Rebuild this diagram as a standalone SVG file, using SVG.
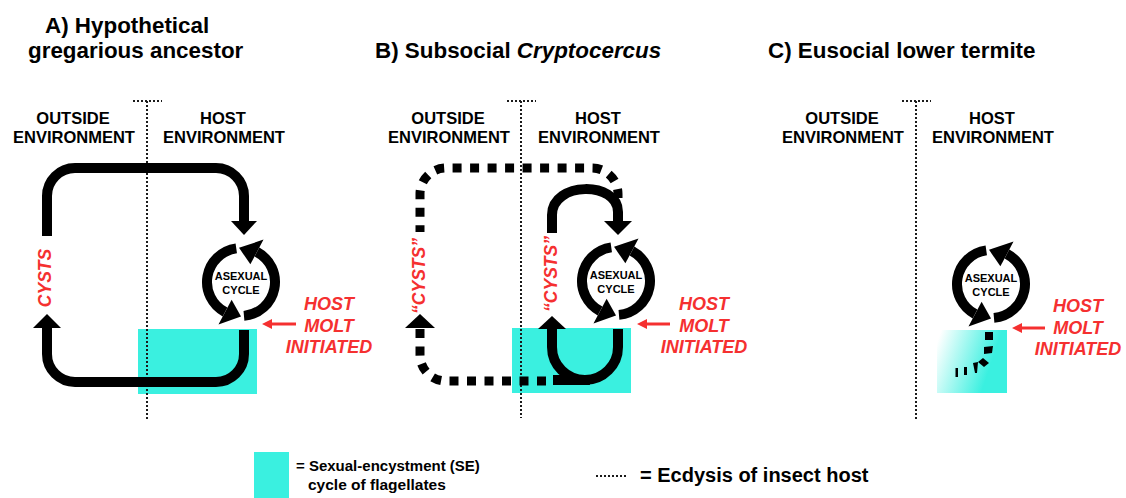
<svg xmlns="http://www.w3.org/2000/svg" xmlns:xlink="http://www.w3.org/1999/xlink" width="1126" height="498" viewBox="0 0 1126 498">
<style>
.t{font-family:"Liberation Sans",Arial,Helvetica,sans-serif;font-weight:bold;fill:#000}
.title{font-size:22.4px}
.env{font-size:16.5px;text-anchor:middle}
.red{fill:#f53030;font-style:italic;font-size:18px;text-anchor:middle}
.cys{fill:#f53030;font-style:italic;font-size:17.5px;text-anchor:middle}
.cyc{font-size:11px;text-anchor:middle}
.dot{stroke:#1a1a1a;stroke-width:2;stroke-dasharray:2 2;fill:none}
.thick{stroke:#000;stroke-width:10;fill:none}
.dash{stroke:#000;stroke-width:9;stroke-dasharray:9 8.5;fill:none}
.head{fill:#000}
.rline{stroke:#f53030;stroke-width:3}
.rhead{fill:#f53030}
.se{fill:#3af0e0}
</style>
<defs>
<linearGradient id="fade" x1="0" y1="0.2" x2="1" y2="0.5">
<stop offset="0" stop-color="#ffffff"/>
<stop offset="0.8" stop-color="#3af0e0"/>
</linearGradient>
<g id="cycle">
<path d="M-4.73,-33.67 A34,34 0 0 0 -15.96,30.02" fill="none" stroke="#000" stroke-width="10"/>
<polygon points="-9.39,17.66 -22.53,42.38 0,34.5" fill="#000"/>
<path d="M2.96,33.87 A34,34 0 0 0 15.96,-30.02" fill="none" stroke="#000" stroke-width="10"/>
<polygon points="9.39,-17.66 22.53,-42.38 -2,-34.2" fill="#000"/>
</g>
</defs>
<rect width="1126" height="498" fill="#fff"/>

<!-- SE regions -->
<g id="se-regions">
<rect class="se" x="138" y="329" width="119" height="65"/>
<rect class="se" x="512" y="328" width="119" height="65"/>
<rect x="937" y="330" width="70" height="63" fill="url(#fade)"/>
</g>

<!-- ecdysis lines -->
<g id="ecdysis">
<path class="dot" d="M133,101 H162 M147,101 V420"/>
<path class="dot" d="M507,101 H536 M521,101 V418"/>
<path class="dot" d="M902,101 H931 M916,101 V420"/>
</g>

<!-- titles -->
<g id="titles">
<text class="t title" x="45" y="33">A) Hypothetical</text>
<text class="t title" x="28" y="58">gregarious ancestor</text>
<text class="t title" x="375" y="58">B) Subsocial <tspan font-style="italic">Cryptocercus</tspan></text>
<text class="t title" x="768" y="58">C) Eusocial lower termite</text>
</g>

<!-- environment labels -->
<g id="env-labels">
<text class="t env" x="73" y="124">OUTSIDE</text>
<text class="t env" x="74" y="143">ENVIRONMENT</text>
<text class="t env" x="223" y="124">HOST</text>
<text class="t env" x="224" y="143">ENVIRONMENT</text>
<text class="t env" x="448" y="124">OUTSIDE</text>
<text class="t env" x="449" y="143">ENVIRONMENT</text>
<text class="t env" x="598" y="124">HOST</text>
<text class="t env" x="599" y="143">ENVIRONMENT</text>
<text class="t env" x="842" y="124">OUTSIDE</text>
<text class="t env" x="843" y="143">ENVIRONMENT</text>
<text class="t env" x="992" y="124">HOST</text>
<text class="t env" x="993" y="143">ENVIRONMENT</text>
</g>

<!-- nodes: asexual cycles -->
<g id="cycleA">
<use xlink:href="#cycle" href="#cycle" x="241" y="282"/>
<text class="t cyc" x="241" y="280">ASEXUAL</text>
<text class="t cyc" x="241" y="294">CYCLE</text>
</g>
<g id="cycleB">
<use xlink:href="#cycle" href="#cycle" x="616" y="281"/>
<text class="t cyc" x="616" y="279">ASEXUAL</text>
<text class="t cyc" x="616" y="293">CYCLE</text>
</g>
<g id="cycleC">
<use xlink:href="#cycle" href="#cycle" x="991" y="284"/>
<text class="t cyc" x="991" y="282">ASEXUAL</text>
<text class="t cyc" x="991" y="296">CYCLE</text>
</g>

<!-- host molt labels -->
<g id="moltA">
<text class="t red" x="329" y="310">HOST</text>
<text class="t red" x="329" y="332">MOLT</text>
<text class="t red" x="329" y="353">INITIATED</text>
</g>
<g id="moltB">
<text class="t red" x="704" y="310">HOST</text>
<text class="t red" x="704" y="332">MOLT</text>
<text class="t red" x="704" y="353">INITIATED</text>
</g>
<g id="moltC">
<text class="t red" x="1078" y="312">HOST</text>
<text class="t red" x="1078" y="334">MOLT</text>
<text class="t red" x="1078" y="355">INITIATED</text>
</g>

<!-- cyst labels -->
<g id="cysts">
<text class="t cys" transform="translate(45,278) rotate(-90)" y="6">CYSTS</text>
<text class="t cys" transform="translate(419,276) rotate(-90)" y="6">“CYSTS”</text>
<text class="t cys" transform="translate(551,274) rotate(-90)" y="6">“CYSTS”</text>
</g>

<!-- connectors -->
<g id="connectors">
<path class="thick" d="M47,236 V196 A28,28 0 0 1 75,168 H216 A28,28 0 0 1 244,196 V222"/>
<polygon class="head" points="231,221 257,221 244,235"/>
<path class="thick" d="M47,327 V354 A28,28 0 0 0 75,382 H216 A28,28 0 0 0 244,354 V330"/>
<polygon class="head" points="33,328 61,328 47,314"/>
<line class="rline" x1="296" y1="324" x2="270" y2="324"/>
<polygon class="rhead" points="262,324 272,319 272,329"/>

<path class="dash" d="M618,198 V194 A26,26 0 0 0 592,168 H446 A26,26 0 0 0 420,194 V232"/>
<path class="dash" d="M546,381 H446 A26,26 0 0 1 420,355 V329"/>
<polygon class="head" points="405,328 435,328 420,314"/>
<path class="thick" d="M552,233 V215 C552,181 618,181 618,212 V222"/>
<polygon class="head" points="604,221 632,221 618,235"/>
<path class="thick" d="M552,327 V347 A33,33 0 0 0 618,347 V329 M553,380 H590"/>
<polygon class="head" points="538,329 566,329 552,316"/>
<line class="rline" x1="670" y1="324" x2="645" y2="324"/>
<polygon class="rhead" points="637,324 647,319 647,329"/>

<rect class="head" x="985" y="332" width="8" height="8"/>
<polygon class="head" points="984,347 993,346 992,353 984,354"/>
<polygon class="head" points="978,362 983,358 989,363 984,367"/>
<polygon class="head" points="973,363 978,362 977,373 975,373"/>
<rect class="head" x="964" y="367" width="3" height="8"/>
<rect class="head" x="955.5" y="368" width="2.5" height="9"/>
<line class="rline" x1="1045" y1="328" x2="1020" y2="328"/>
<polygon class="rhead" points="1012,328 1022,323 1022,333"/>
</g>

<!-- legend -->
<g id="legend">
<rect class="se" x="254" y="452" width="35" height="46"/>
<text class="t" x="296" y="471" font-size="15">= Sexual-encystment (SE)</text>
<text class="t" x="308" y="490" font-size="15.5">cycle of flagellates</text>
<path class="dot" d="M596,476 H626"/>
<text class="t" x="640" y="482" font-size="20">= Ecdysis of insect host</text>
</g>
</svg>
